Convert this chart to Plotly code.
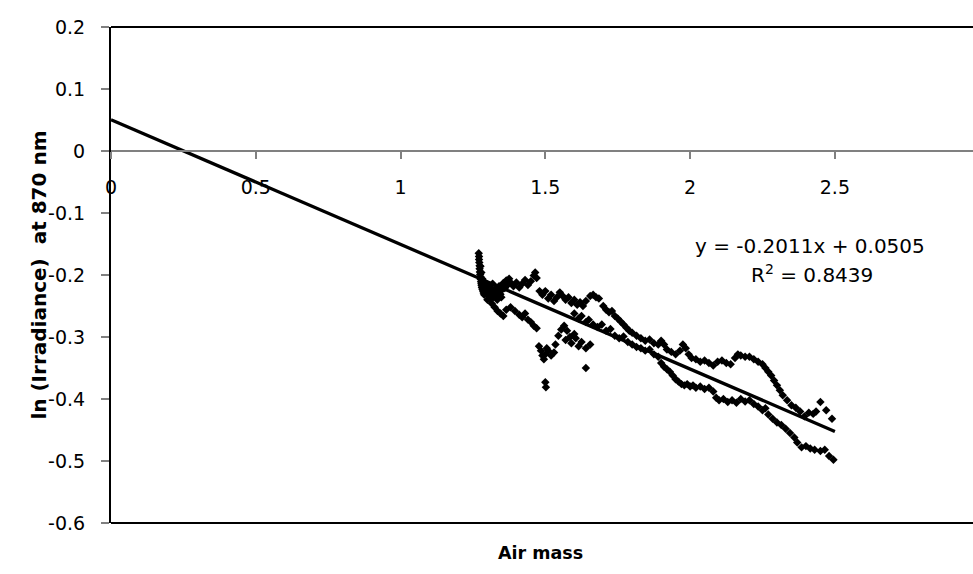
import plotly.graph_objects as go

# ---- data ----
clusterA_x = [1.270,1.271,1.271,1.272,1.273,1.273,1.274,1.275,1.276,1.277,1.278,1.279,1.280,1.281,1.283,1.285,1.287,1.289,1.276,1.279,1.282]
clusterA_y = [-0.165,-0.170,-0.175,-0.180,-0.185,-0.190,-0.195,-0.199,-0.203,-0.207,-0.211,-0.214,-0.217,-0.220,-0.223,-0.226,-0.229,-0.232,-0.186,-0.196,-0.206]

clusterB_x = [1.292,1.296,1.300,1.304,1.308,1.312,1.316,1.320,1.324,1.328,1.332,1.336,1.340,1.345,1.350,1.355,1.360,1.365,1.370,1.375,1.380,1.300,1.310,1.318,1.334,1.348]
clusterB_y = [-0.212,-0.222,-0.216,-0.228,-0.220,-0.232,-0.226,-0.236,-0.229,-0.222,-0.234,-0.227,-0.218,-0.231,-0.224,-0.213,-0.221,-0.209,-0.216,-0.206,-0.212,-0.232,-0.238,-0.214,-0.240,-0.236]

upper1_x = [1.39,1.40,1.41,1.42,1.43,1.44,1.45,1.46,1.465,1.47,1.48,1.49,1.50,1.51,1.52,1.53,1.54,1.55,1.56,1.57,1.58,1.59,1.60,1.61,1.62,1.63,1.64,1.655,1.665,1.675,1.685,1.70,1.71,1.72,1.73,1.74,1.75,1.76,1.77,1.78,1.79,1.80]
upper1_y = [-0.218,-0.212,-0.220,-0.214,-0.208,-0.216,-0.210,-0.201,-0.196,-0.205,-0.226,-0.232,-0.226,-0.238,-0.232,-0.242,-0.236,-0.228,-0.234,-0.240,-0.236,-0.245,-0.240,-0.248,-0.244,-0.250,-0.242,-0.234,-0.232,-0.236,-0.238,-0.250,-0.256,-0.260,-0.258,-0.266,-0.270,-0.275,-0.280,-0.285,-0.290,-0.293]

upper2_x = [1.815,1.83,1.845,1.86,1.875,1.89,1.90,1.91,1.92,1.935,1.95,1.965,1.975,1.985,1.995,2.005,2.02,2.035,2.05,2.065,2.08,2.095,2.11,2.125,2.14,2.155,2.165,2.175,2.19,2.205,2.22,2.235,2.25,2.26,2.27,2.28,2.29,2.30,2.31,2.32,2.335,2.35,2.365,2.38,2.395,2.41,2.425,2.435,2.45,2.47,2.49]
upper2_y = [-0.298,-0.302,-0.306,-0.304,-0.310,-0.312,-0.306,-0.312,-0.320,-0.324,-0.328,-0.322,-0.312,-0.318,-0.328,-0.334,-0.336,-0.340,-0.338,-0.342,-0.346,-0.340,-0.338,-0.342,-0.344,-0.334,-0.328,-0.330,-0.332,-0.332,-0.336,-0.340,-0.344,-0.350,-0.356,-0.362,-0.370,-0.378,-0.386,-0.394,-0.402,-0.410,-0.414,-0.420,-0.428,-0.422,-0.424,-0.420,-0.405,-0.418,-0.432]

middle_x = [1.60,1.615,1.625,1.64,1.65,1.665,1.68,1.695,1.71,1.725,1.74,1.755,1.77,1.785,1.80,1.815,1.83,1.845,1.86,1.875,1.89]
middle_y = [-0.262,-0.270,-0.266,-0.276,-0.272,-0.280,-0.284,-0.280,-0.290,-0.287,-0.298,-0.302,-0.299,-0.308,-0.312,-0.316,-0.318,-0.322,-0.320,-0.328,-0.332]

lower1_x = [1.30,1.315,1.325,1.335,1.345,1.355,1.365,1.38,1.395,1.41,1.42,1.43,1.44,1.45,1.46,1.47]
lower1_y = [-0.240,-0.246,-0.252,-0.258,-0.262,-0.266,-0.256,-0.252,-0.258,-0.264,-0.268,-0.262,-0.272,-0.276,-0.282,-0.286]

lower2_x = [1.478,1.485,1.49,1.495,1.50,1.505,1.51,1.52,1.53,1.535,1.545,1.555,1.565,1.575,1.585,1.57,1.59,1.60,1.605,1.615,1.625,1.64,1.655,1.50,1.502,1.64]
lower2_y = [-0.315,-0.322,-0.330,-0.336,-0.328,-0.318,-0.322,-0.330,-0.325,-0.312,-0.298,-0.288,-0.282,-0.290,-0.300,-0.305,-0.310,-0.295,-0.302,-0.315,-0.308,-0.318,-0.312,-0.373,-0.381,-0.350]

lower3_x = [1.90,1.91,1.92,1.93,1.94,1.95,1.96,1.97,1.98,1.99,2.00,2.01,2.02,2.035,2.05,2.065,2.08,2.09,2.10,2.115,2.13,2.145,2.16,2.175,2.19,2.205,2.22,2.235,2.25,2.26,2.27,2.285,2.30,2.315,2.33,2.345,2.36,2.37,2.385,2.40,2.415,2.43,2.45,2.465,2.48,2.495]
lower3_y = [-0.342,-0.348,-0.352,-0.356,-0.362,-0.368,-0.372,-0.376,-0.378,-0.376,-0.380,-0.378,-0.382,-0.380,-0.384,-0.382,-0.388,-0.398,-0.402,-0.400,-0.405,-0.402,-0.406,-0.400,-0.404,-0.402,-0.408,-0.412,-0.418,-0.415,-0.425,-0.432,-0.438,-0.442,-0.448,-0.455,-0.462,-0.470,-0.478,-0.476,-0.480,-0.482,-0.484,-0.482,-0.492,-0.498]

trend_x = [0.0, 2.5]
trend_y = [0.0505, -0.4523]

x_ticks = [0, 0.5, 1, 1.5, 2, 2.5]
x_ticklabels = ["0", "0.5", "1", "1.5", "2", "2.5"]
y_ticks = [-0.6, -0.5, -0.4, -0.3, -0.2, -0.1, 0, 0.1, 0.2]
y_ticklabels = ["-0.6", "-0.5", "-0.4", "-0.3", "-0.2", "-0.1", "0", "0.1", "0.2"]

equation_text = "y = -0.2011x + 0.0505"
r2_text = "R<sup>2</sup> = 0.8439"
x_title = "Air mass"
y_title = "ln (Irradiance)  at 870 nm"

all_x = clusterA_x + clusterB_x + upper1_x + upper2_x + middle_x + lower1_x + lower2_x + lower3_x
all_y = clusterA_y + clusterB_y + upper1_y + upper2_y + middle_y + lower1_y + lower2_y + lower3_y

FONT = "DejaVu Sans"

fig = go.Figure()
fig.add_trace(go.Scatter(
    x=all_x, y=all_y, mode="markers",
    marker=dict(symbol="diamond", size=6.5, color="black", line=dict(width=0)),
    showlegend=False, hoverinfo="skip"))
fig.add_trace(go.Scatter(
    x=trend_x, y=trend_y, mode="lines",
    line=dict(color="black", width=3.3), showlegend=False, hoverinfo="skip"))

fig.update_layout(
    width=973, height=574,
    margin=dict(l=111, r=0, t=27, b=51),
    paper_bgcolor="white", plot_bgcolor="white",
    font=dict(family=FONT, size=19, color="black"),
    xaxis=dict(
        range=[0, 2.977], anchor="free", position=0.75,
        showgrid=False, zeroline=False,
        showline=True, linecolor="#808080", linewidth=1.5,
        ticks="outside", ticklen=7, tickcolor="#808080", tickwidth=1.5,
        tickvals=x_ticks, ticktext=x_ticklabels,
        ticklabelstandoff=12,
        tickfont=dict(family=FONT, size=19, color="black"),
    ),
    yaxis=dict(
        range=[-0.6, 0.2], showgrid=False, zeroline=False,
        showline=True, linecolor="black", linewidth=2,
        ticks="outside", ticklen=8, tickcolor="#808080", tickwidth=1.5,
        tickvals=y_ticks, ticktext=y_ticklabels,
        ticklabelstandoff=12,
        tickfont=dict(family=FONT, size=19, color="black"),
    ),
    shapes=[
        dict(type="line", xref="paper", yref="paper", x0=0, x1=1, y0=1, y1=1,
             line=dict(color="black", width=2)),
        dict(type="line", xref="paper", yref="paper", x0=0, x1=1, y0=0, y1=0,
             line=dict(color="black", width=2)),
    ],
    annotations=[
        dict(text=equation_text, xref="paper", yref="paper", x=0.811, y=0.5585,
             showarrow=False, xanchor="center", yanchor="middle",
             font=dict(family=FONT, size=20)),
        dict(text=r2_text, xref="paper", yref="paper", x=0.813, y=0.503,
             showarrow=False, xanchor="center", yanchor="middle",
             font=dict(family=FONT, size=20)),
        dict(text="<b>" + x_title + "</b>", xref="paper", yref="paper", x=0.4977, y=-0.0605,
             showarrow=False, xanchor="center", yanchor="middle",
             font=dict(family=FONT, size=17.5)),
        dict(text="<b>" + y_title + "</b>", xref="paper", yref="paper", x=-0.084, y=0.5,
             showarrow=False, xanchor="center", yanchor="middle", textangle=-90,
             font=dict(family=FONT, size=20)),
    ],
)

fig.write_html("out.html")
